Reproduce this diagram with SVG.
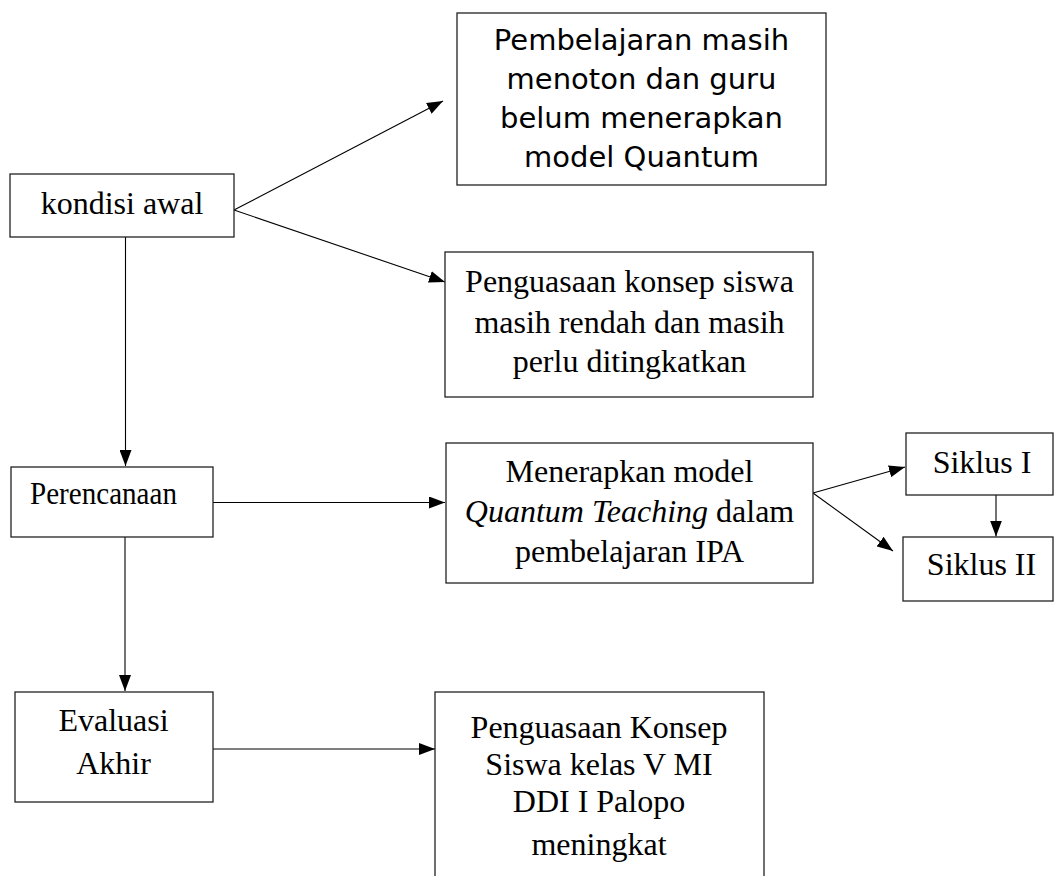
<svg xmlns="http://www.w3.org/2000/svg" width="1055" height="876" viewBox="0 0 1055 876">
<style>
.box{fill:#fff;stroke:#222;stroke-width:1.3}
.serif{font-family:"Liberation Serif","Times New Roman",serif;font-size:32px;fill:#000;text-anchor:middle}
.sans{font-family:"DejaVu Sans","Noto Sans",sans-serif;font-size:29px;fill:#000;text-anchor:middle}
.edge{stroke:#000;stroke-width:1.1;fill:none;marker-end:url(#arr)}
</style>
<defs>
<marker id="arr" markerUnits="userSpaceOnUse" markerWidth="16" markerHeight="12" refX="16" refY="6" orient="auto">
<path d="M0,0 L16,6 L0,12 z" fill="#000"/>
</marker>
</defs>
<rect width="1055" height="876" fill="#fff"/>
<g id="connectors">
<line class="edge" x1="234" y1="210" x2="443" y2="101"/>
<line class="edge" x1="234" y1="210" x2="445" y2="282"/>
<line class="edge" x1="125.5" y1="237" x2="125.5" y2="466"/>
<line class="edge" x1="213" y1="502.5" x2="445" y2="502.5"/>
<line class="edge" x1="125" y1="537" x2="125" y2="691"/>
<line class="edge" x1="213" y1="749" x2="435" y2="749"/>
<line class="edge" x1="813" y1="493" x2="905" y2="467"/>
<line class="edge" x1="813" y1="493" x2="893" y2="551"/>
<line class="edge" x1="996" y1="495" x2="996" y2="536.5"/>
</g>
<g id="kondisi-awal">
<rect class="box" x="10" y="174" width="224" height="63"/>
<text class="serif" x="122" y="214">kondisi awal</text>
</g>
<g id="pembelajaran">
<rect class="box" x="457" y="13" width="369" height="172"/>
<text class="sans" x="641.5" y="50">Pembelajaran masih</text>
<text class="sans" x="641.5" y="89">menoton dan guru</text>
<text class="sans" x="641.5" y="128">belum menerapkan</text>
<text class="sans" x="641.5" y="167">model Quantum</text>
</g>
<g id="penguasaan-konsep">
<rect class="box" x="445" y="252" width="368" height="145"/>
<text class="serif" x="629.5" y="292">Penguasaan konsep siswa</text>
<text class="serif" x="629.5" y="333">masih rendah dan masih</text>
<text class="serif" x="629.5" y="372">perlu ditingkatkan</text>
</g>
<g id="perencanaan">
<rect class="box" x="11" y="467" width="202" height="70"/>
<text class="serif" x="30" y="504" style="text-anchor:start" textLength="147" lengthAdjust="spacingAndGlyphs">Perencanaan</text>
</g>
<g id="menerapkan">
<rect class="box" x="446" y="443" width="367" height="140"/>
<text class="serif" x="629.5" y="482">Menerapkan model</text>
<text class="serif" x="629.5" y="522"><tspan font-style="italic">Quantum Teaching</tspan> dalam</text>
<text class="serif" x="629.5" y="562">pembelajaran IPA</text>
</g>
<g id="siklus-1">
<rect class="box" x="906" y="433" width="147" height="62"/>
<text class="serif" x="982" y="473">Siklus I</text>
</g>
<g id="siklus-2">
<rect class="box" x="903" y="537" width="150" height="64"/>
<text class="serif" x="981.5" y="575">Siklus II</text>
</g>
<g id="evaluasi-akhir">
<rect class="box" x="15" y="692" width="198" height="110"/>
<text class="serif" x="113.5" y="731">Evaluasi</text>
<text class="serif" x="113.5" y="774">Akhir</text>
</g>
<g id="penguasaan-meningkat">
<rect class="box" x="435" y="692" width="329" height="200"/>
<text class="serif" x="599" y="738">Penguasaan Konsep</text>
<text class="serif" x="599" y="775">Siswa kelas V MI</text>
<text class="serif" x="599" y="812">DDI I Palopo</text>
<text class="serif" x="599" y="855">meningkat</text>
</g>
</svg>
